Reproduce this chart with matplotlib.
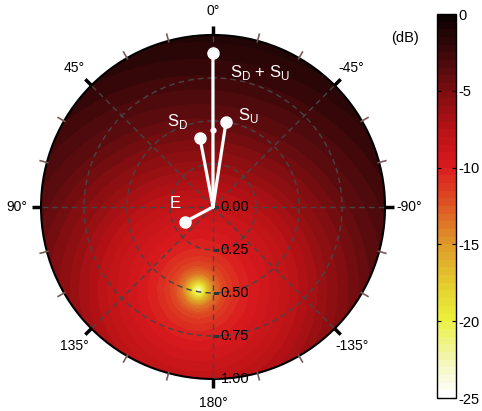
import numpy as np
import matplotlib
matplotlib.use("Agg")
import matplotlib.pyplot as plt
from matplotlib.colors import LinearSegmentedColormap, BoundaryNorm

plt.rcParams['font.family'] = ['Liberation Sans', 'DejaVu Sans']
plt.rcParams['mathtext.fontset'] = 'custom'
plt.rcParams['mathtext.rm'] = 'Liberation Sans'
plt.rcParams['axes.unicode_minus'] = False

# level profile (dB) against distance from the null
null_theta = 170.0   # deg
null_r = 0.49
profile_dist = [0.0, 0.015, 0.03, 0.045, 0.07, 0.10, 0.15, 0.22, 0.32, 0.50, 0.75, 1.00, 1.25, 1.50]
profile_db = [-25.0, -22.0, -20.0, -18.0, -15.5, -13.5, -11.8, -10.7, -9.8, -8.3, -6.0, -4.0, -2.5, -1.2]

# vectors (angle in deg, magnitude)
vec_E = (118.0, 0.185)
vec_SD = (10.7, 0.41)
vec_SU = (-8.7, 0.50)

angle_ticks = [0, 45, 90, 135, 180, -135, -90, -45]
angle_labels = ['0°', '45°', '90°', '135°', '180°', '-135°', '-90°', '-45°']
radial_ticks = [0.0, 0.25, 0.5, 0.75, 1.0]
radial_labels = ['0.00', '0.25', '0.50', '0.75', '1.00']
cbar_ticks = [0, -5, -10, -15, -20, -25]

# muted "hot" palette, keyed by dB
cmap_db = [-25, -22.5, -20, -17.5, -15, -12.5, -10, -7.5, -5, -2.5, 0]
cmap_rgb = [(255, 255, 255), (242, 245, 170), (235, 240, 60), (228, 200, 45),
            (222, 152, 42), (222, 85, 36), (218, 26, 30), (185, 18, 22),
            (125, 14, 17), (62, 8, 10), (12, 2, 2)]


def to_xy(theta_deg, r):
    t = np.deg2rad(theta_deg)
    return -r * np.sin(t), r * np.cos(t)


def to_polar(x, y):
    return np.arctan2(-x, y), np.hypot(x, y)


cmap = LinearSegmentedColormap.from_list(
    'dbhot', [((v + 25) / 25, tuple(c / 255 for c in rgb)) for v, rgb in zip(cmap_db, cmap_rgb)])
levels = np.linspace(-25, 0, 51)
norm = BoundaryNorm(levels, cmap.N)

fig = plt.figure(figsize=(4.82, 4.11), dpi=100)
ax = fig.add_axes([0.0851, 0.0779, 0.7137, 0.837], projection='polar')
ax.set_theta_zero_location('N')
ax.set_theta_direction(1)
ax.set_ylim(0, 1)
ax.set_xticks([])
ax.set_yticks([])
ax.grid(False)
ax.spines['polar'].set_linewidth(1.5)

# field
th = np.linspace(0, 2 * np.pi, 361)
rr = np.linspace(0, 1, 301)
TH, R = np.meshgrid(th, rr)
X, Y = -R * np.sin(TH), R * np.cos(TH)
nx, ny = to_xy(null_theta, null_r)
dist = np.hypot(X - nx, Y - ny)
field = np.interp(dist, profile_dist, profile_db)
cs = ax.contourf(TH, R, field, levels=levels, cmap=cmap, norm=norm)

# dashed grid
grid_kw = dict(color='#454545', lw=1.0, ls=(0, (4, 3)), zorder=3)
for rc in [0.25, 0.5, 0.75]:
    ax.plot(th, np.full_like(th, rc), **grid_kw)
for a in range(0, 360, 45):
    ax.plot([np.deg2rad(a)] * 2, [0, 1], **grid_kw)

# edge ticks
for a in range(0, 360, 15):
    t = np.deg2rad(a)
    if a % 45 == 0:
        ax.plot([t, t], [1.0, 1.05], color='black', lw=2.5, clip_on=False, zorder=5,
                solid_capstyle='butt')
    else:
        ax.plot([t, t], [0.995, 1.04], color='#7a5a5a', lw=1.2, clip_on=False, zorder=5)

for a, lbl in zip(angle_ticks, angle_labels):
    ax.text(np.deg2rad(a), 1.14, lbl, ha='center', va='center', fontsize=10)

# radial axis along 180°
ax.plot([np.pi] * len(radial_ticks), radial_ticks, ls='none', marker=1, ms=4,
        mew=1.0, color='#333333', zorder=4)
for rv, lbl in zip(radial_ticks, radial_labels):
    ax.annotate(lbl, xy=(np.pi, rv), xytext=(5.5, 0), textcoords='offset points',
                ha='left', va='center', fontsize=10.5, zorder=6)

# vectors
sum_xy = np.add(to_xy(*vec_SD), to_xy(*vec_SU))
t_sum, r_sum = to_polar(*sum_xy)
t_mid, r_mid = to_polar(*(sum_xy / 2))

points = [(np.deg2rad(vec_E[0]), vec_E[1]), (np.deg2rad(vec_SD[0]), vec_SD[1]),
          (np.deg2rad(vec_SU[0]), vec_SU[1]), (t_sum, r_sum)]
for t, r in points:
    ax.plot([0, t], [0, r], color='white', lw=2.3, solid_capstyle='round', zorder=7)
    ax.plot(t, r, 'o', ms=8, color='white', zorder=8)
ax.plot(t_mid, r_mid, 'o', ms=3.5, color='white', zorder=8)

lbl_kw = dict(textcoords='offset points', ha='center', va='center', color='white',
              fontsize=12, zorder=9)
ax.annotate('E', xy=points[0], xytext=(-7, 13.5), **lbl_kw)
ax.annotate(r'S$_\mathrm{D}$', xy=points[1], xytext=(-16, 12), **lbl_kw)
ax.annotate(r'S$_\mathrm{U}$', xy=points[2], xytext=(16, 5), **lbl_kw)
ax.annotate(r'S$_\mathrm{D}$ + S$_\mathrm{U}$', xy=points[3], xytext=(34, -14), **lbl_kw)

# colorbar
cax = fig.add_axes([437 / 482, 13 / 411, 19 / 482, 384 / 411])
cb = fig.colorbar(cs, cax=cax, ticks=cbar_ticks)
cb.ax.minorticks_off()
cb.ax.set_yticklabels([str(v) for v in cbar_ticks])
cb.ax.tick_params(direction='in', length=3, width=0.8, left=True, right=True,
                  labelsize=10.5, pad=2)
cb.outline.set_linewidth(1.0)
fig.text(405 / 482, 1 - 38 / 411, '(dB)', ha='center', va='center', fontsize=10.5)

fig.savefig('out.png', dpi=100)
